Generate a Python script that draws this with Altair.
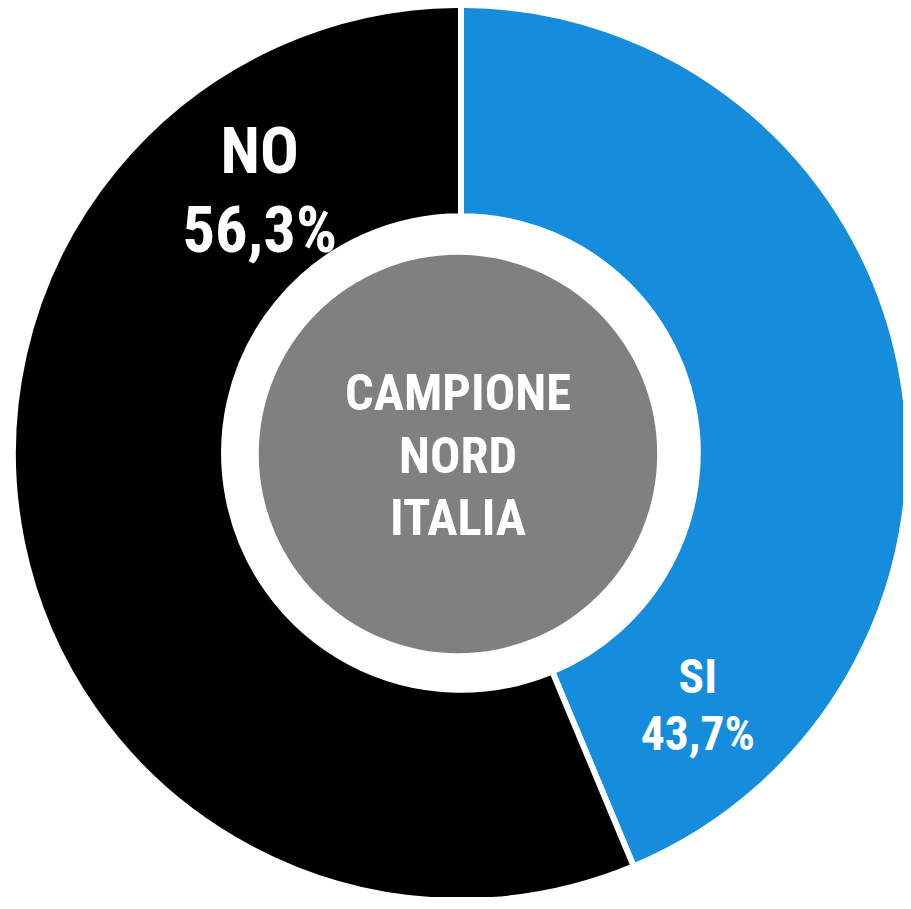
import altair as alt
import pandas as pd

categories = ["SI", "NO"]
values = [43.7, 56.3]
colors = ["#168CDD", "#000000"]
center_lines = ["CAMPIONE", "NORD", "ITALIA"]

df = pd.DataFrame({
    "cat": categories,
    "val": values,
    "order": list(range(len(categories))),
})
df["label"] = [f"{c}\n{str(v).replace('.', ',')}%" for c, v in zip(categories, values)]

FONT = "Roboto Condensed, Liberation Sans Narrow, Roboto, sans-serif"
CX, CY = 457, 445

donut = alt.Chart(df).mark_arc(
    radius=452, radius2=239, stroke="white", strokeWidth=6
).encode(
    theta=alt.Theta("val:Q", stack=True),
    order=alt.Order("order:Q"),
    color=alt.Color("cat:N", scale=alt.Scale(domain=categories, range=colors), legend=None),
    x=alt.value(CX), y=alt.value(CY),
)

hub = alt.Chart(pd.DataFrame({"v": [1]})).mark_arc(
    radius=201, theta=0, theta2=6.2832, color="#808080"
).encode(x=alt.value(454), y=alt.value(446))

no_label = alt.Chart(df).transform_filter(alt.datum.cat == "NO").mark_text(
    font=FONT, fontWeight="bold", fontSize=65, color="white",
    align="center", baseline="alphabetic", lineBreak="\n", lineHeight=80
).encode(text="label:N", x=alt.value(254), y=alt.value(162))

si_label = alt.Chart(df).transform_filter(alt.datum.cat == "SI").mark_text(
    font=FONT, fontWeight="bold", fontSize=48, color="white",
    align="center", baseline="alphabetic", lineBreak="\n", lineHeight=58
).encode(text="label:N", x=alt.value(696), y=alt.value(687))

center = alt.Chart(pd.DataFrame({"t": ["\n".join(center_lines)]})).mark_text(
    font=FONT, fontWeight="bold", fontSize=51, color="white",
    align="center", baseline="alphabetic", lineBreak="\n", lineHeight=63
).encode(text="t:N", x=alt.value(454), y=alt.value(402))

chart = alt.layer(donut, hub, no_label, si_label, center).properties(
    width=903, height=889, padding=0, autosize=alt.AutoSizeParams(type="none")
).configure_view(stroke=None)

chart.save("out.html", embed_options={"renderer": "svg", "actions": False})
